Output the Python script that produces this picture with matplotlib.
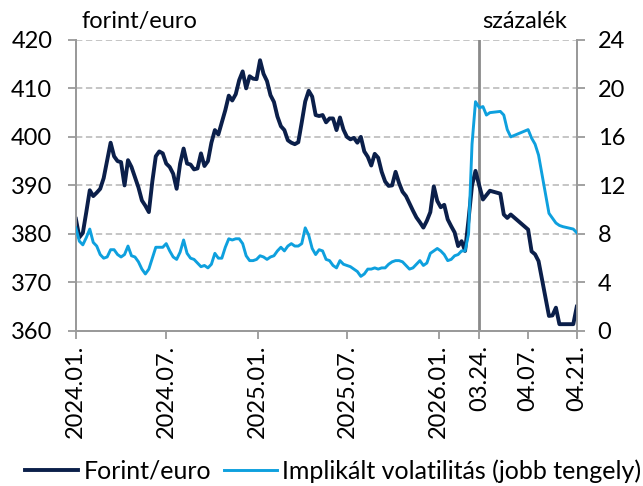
import numpy as np
import pandas as pd
import matplotlib
matplotlib.use("Agg")
import matplotlib.pyplot as plt
import matplotlib.dates as mdates

plt.rcParams["font.family"] = ["Lato", "DejaVu Sans"]
plt.rcParams["font.size"] = 17

# weekly readings from 2024-01-01 up to mid-March 2026
MAIN_START = "2024-01-01"
eur_main = [
    383.1, 379.3, 380.2, 384.5, 389.0, 387.8, 388.5, 389.3, 391.5, 395.2,
    398.8, 396.0, 395.0, 394.8, 390.0, 395.2, 393.8, 391.7, 389.6, 386.9,
    385.8, 384.5, 390.8, 396.0, 397.0, 396.6, 394.5, 393.8, 392.4, 389.3,
    394.5, 397.6, 394.5, 394.3, 393.3, 393.5, 396.6, 394.0, 395.0, 398.8,
    401.4, 400.5, 403.0, 405.5, 408.5, 407.5, 408.8, 411.7, 413.5, 410.0,
    412.5, 412.0, 411.9, 415.8, 413.0, 411.5, 408.6, 407.2, 404.2, 402.2,
    401.4, 399.3, 398.8, 398.5, 398.9, 403.0, 407.3, 409.5, 408.3, 404.5,
    404.3, 404.5, 403.0, 403.8, 403.8, 401.4, 404.0, 401.5, 400.0, 399.5,
    399.8, 398.8, 400.0, 397.0, 395.9, 394.1, 396.5, 395.7, 392.8, 390.8,
    389.9, 390.0, 392.8, 390.5, 388.7, 387.8, 386.3, 384.8, 383.4, 382.4,
    381.3, 382.7, 384.5, 389.8, 386.8, 385.5, 386.0, 383.0, 381.6, 380.3,
    377.5, 378.5, 376.5, 383.0, 390.0, 393.0,
]
vol_main = [
    8.5, 7.4, 7.1, 7.7, 8.4, 7.3, 7.0, 6.3, 6.0, 6.1,
    6.7, 6.7, 6.3, 6.1, 6.3, 7.0, 6.2, 6.1, 5.7, 5.1,
    4.7, 5.1, 6.0, 6.9, 6.9, 6.9, 7.2, 6.6, 6.1, 5.9,
    6.5, 7.5, 6.4, 6.0, 5.9, 5.6, 5.3, 5.4, 5.2, 5.5,
    6.4, 6.0, 6.0, 6.9, 7.6, 7.5, 7.6, 7.6, 7.2, 6.2,
    5.8, 5.8, 5.9, 6.2, 6.1, 5.9, 6.1, 6.2, 6.6, 6.9,
    6.6, 7.0, 7.2, 7.0, 7.0, 7.2, 8.5, 7.9, 6.8, 6.3,
    6.7, 6.6, 5.9, 5.8, 5.4, 5.2, 5.8, 5.5, 5.4, 5.3,
    5.1, 4.9, 4.5, 4.7, 5.1, 5.1, 5.2, 5.1, 5.2, 5.2,
    5.5, 5.7, 5.8, 5.8, 5.7, 5.4, 5.1, 5.2, 5.5, 5.8,
    5.4, 5.6, 6.4, 6.6, 6.8, 6.6, 6.3, 5.8, 5.9, 6.2,
    6.3, 6.6, 6.6, 8.0, 15.4, 18.9,
]

# daily readings for the magnified period
zoom_dates = [
    "2026-03-24", "2026-03-25", "2026-03-26", "2026-03-27", "2026-03-30",
    "2026-03-31", "2026-04-01", "2026-04-02", "2026-04-07", "2026-04-08",
    "2026-04-09", "2026-04-10", "2026-04-13", "2026-04-14", "2026-04-15",
    "2026-04-16", "2026-04-17", "2026-04-20", "2026-04-21",
]
eur_zoom = [
    389.8, 387.1, 388.0, 388.9, 388.3, 384.0, 383.3, 384.0, 380.9, 376.4,
    375.8, 374.4, 363.1, 363.2, 364.8, 361.4, 361.4, 361.4, 365.0,
]
vol_zoom = [
    18.4, 18.5, 17.8, 18.0, 18.1, 17.8, 16.6, 16.0, 16.6, 15.9,
    15.4, 14.5, 9.7, 9.3, 8.9, 8.7, 8.6, 8.4, 8.1,
]

tick_dates = ["2024-01-01", "2024-07-01", "2025-01-01", "2025-07-01",
              "2026-01-01", "2026-03-24", "2026-04-07", "2026-04-21"]
tick_labels = ["2024.01.", "2024.07.", "2025.01.", "2025.07.",
               "2026.01.", "03.24.", "04.07.", "04.21."]

BREAK = "2026-03-24"
END = "2026-04-21"
ZOOM = 7.0

DARK = "#0b1f4a"
BLUE = "#0ea0de"
GRID = "#c0c0c0"
AXIS = "#9a9a9a"

main_dates = pd.date_range(MAIN_START, periods=len(eur_main), freq="7D")
x_main = mdates.date2num(main_dates)
x_zoom = mdates.date2num(pd.to_datetime(zoom_dates))
x_all = np.concatenate([x_main, x_zoom])
eur_all = np.concatenate([eur_main, eur_zoom])
vol_all = np.concatenate([vol_main, vol_zoom])

b = mdates.date2num(pd.Timestamp(BREAK))


def fwd(x):
    x = np.asarray(x, dtype=float)
    return np.where(x <= b, x, b + (x - b) * ZOOM)


def inv(x):
    x = np.asarray(x, dtype=float)
    return np.where(x <= b, x, b + (x - b) / ZOOM)


fig = plt.figure(figsize=(6.43, 4.86), dpi=100)
ax = fig.add_axes([0.118, 0.319, 0.779, 0.599])
ax.set_xscale("function", functions=(fwd, inv))
ax2 = ax.twinx()

ax.axvline(b, color="#8a8a8a", lw=2, zorder=1)
l1, = ax.plot(x_all, eur_all, color=DARK, lw=2.8, zorder=3)
l2, = ax2.plot(x_all, vol_all, color=BLUE, lw=2.1, zorder=3)

ax.set_xlim(mdates.date2num(pd.Timestamp(MAIN_START)),
            mdates.date2num(pd.Timestamp(END)))
ax.set_ylim(360, 420)
ax.set_yticks(np.arange(360, 421, 10))
ax2.set_ylim(0, 24)
ax2.set_yticks(np.arange(0, 25, 4))

ax.set_xticks(mdates.date2num(pd.to_datetime(tick_dates)))
ax.set_xticklabels(tick_labels, rotation=90)
ax.xaxis.set_minor_locator(plt.NullLocator())

ax.yaxis.grid(True, color=GRID, ls=(0, (3.5, 2)), lw=1.3)
ax.set_axisbelow(True)

for a in (ax, ax2):
    a.spines["top"].set_visible(False)
    for s in ("left", "right", "bottom"):
        a.spines[s].set_color(AXIS)
        a.spines[s].set_linewidth(1.3)
    a.tick_params(colors=AXIS, labelcolor="black", length=6, width=1.3,
                  labelsize=17)
ax.tick_params(axis="x", pad=4)
ax.tick_params(axis="y", pad=11)
ax2.tick_params(axis="y", pad=9)

ax.annotate("forint/euro", xy=(0.012, 1.0), xycoords="axes fraction",
            xytext=(0, 6), textcoords="offset points", ha="left", va="bottom")
ax.annotate("százalék", xy=(0.812, 1.0), xycoords="axes fraction",
            xytext=(0, 6), textcoords="offset points", ha="left", va="bottom")

fig.legend([l1, l2], ["Forint/euro", "Implikált volatilitás (jobb tengely)"],
           loc="lower center", bbox_to_anchor=(0.518, -0.04), ncol=2,
           frameon=False, handlelength=2.15, handletextpad=0.2,
           columnspacing=0.5, fontsize=18)

fig.savefig("out.png", dpi=100)
